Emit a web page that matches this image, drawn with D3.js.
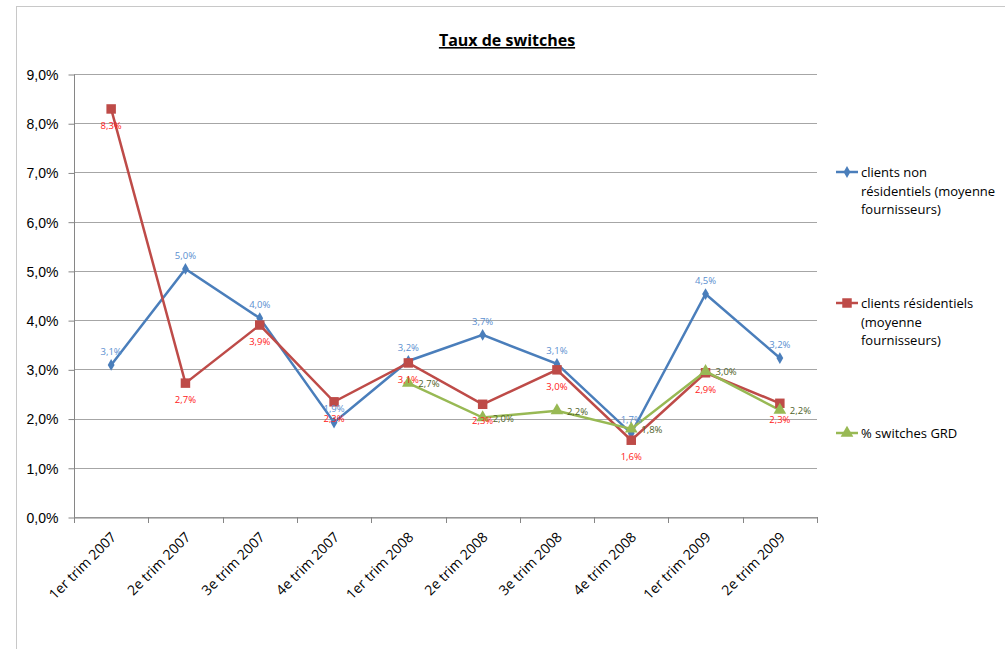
<!DOCTYPE html>
<html><head><meta charset="utf-8">
<script src="https://cdn.jsdelivr.net/npm/d3@7/dist/d3.min.js"></script>
<style>body{margin:0;background:#fff;} svg{display:block;font-family:"Open Sans","Liberation Sans",sans-serif;}</style>
</head><body>
<script>
const categories = ["1er trim 2007","2e trim 2007","3e trim 2007","4e trim 2007","1er trim 2008","2e trim 2008","3e trim 2008","4e trim 2008","1er trim 2009","2e trim 2009"];
const nonResidentiels = [3.09, 5.04, 4.04, 1.92, 3.17, 3.70, 3.11, 1.70, 4.53, 3.23];
const residentiels = [8.29, 2.72, 3.90, 2.34, 3.13, 2.29, 2.99, 1.56, 2.93, 2.31];
const switchesGRD = [null, null, null, null, 2.72, 2.02, 2.16, 1.79, 2.96, 2.17];
const yTicks = [0,1,2,3,4,5,6,7,8,9];
const seriesNames = ["clients non résidentiels (moyenne fournisseurs)","clients résidentiels (moyenne fournisseurs)","% switches GRD"];

const W=1005,H=649;
const svg=d3.select("body").append("svg").attr("width",W).attr("height",H);
svg.append("rect").attr("x",16.5).attr("y",6.5).attr("width",1100).attr("height",700).attr("fill","#fff").attr("stroke","#c8c8c8");

const x=d3.scaleBand().domain(categories).range([74,817]);
const y=d3.scaleLinear().domain([0,9]).range([517,74]);
const fmt=v=>d3.format(".1f")(v).replace(".",",")+"%";

// gridlines
svg.append("g").selectAll("line").data(yTicks).join("line")
 .attr("x1",74).attr("x2",817).attr("y1",d=>Math.round(y(d))+0.5).attr("y2",d=>Math.round(y(d))+0.5)
 .attr("stroke","#a6a6a6").attr("stroke-width",1);

// y axis
const ya=svg.append("g").attr("transform","translate(74.5,0.5)").call(d3.axisLeft(y).tickValues(yTicks).tickSize(6).tickFormat(d=>fmt(d)));
ya.select(".domain").attr("stroke","#868686").attr("d","M0,"+y(9)+"V"+y(0));
ya.selectAll(".tick line").attr("stroke","#868686");
ya.selectAll("text").attr("font-size",14).attr("fill","#000").attr("x",-16).attr("dy","0.35em");

// x axis
const xa=svg.append("g").attr("transform","translate(0.5,517.5)").call(d3.axisBottom(x).tickSize(0).tickFormat(""));
xa.select(".domain").attr("stroke","#868686");
const edges=categories.map(c=>x(c)).concat([x.range()[1]]);
svg.append("g").selectAll("line").data(edges).join("line")
 .attr("x1",d=>Math.round(d)+0.5).attr("x2",d=>Math.round(d)+0.5).attr("y1",517).attr("y2",523).attr("stroke","#868686");
svg.append("g").selectAll("text").data(categories).join("text")
 .attr("transform",d=>`translate(${x(d)+x.bandwidth()/2+6},${538}) rotate(-45)`)
 .attr("text-anchor","end").attr("font-size",14).attr("fill","#000").text(d=>d);

// title
svg.append("text").attr("x",507).attr("y",46).attr("text-anchor","middle").attr("font-size",16).attr("font-weight","bold")
 .attr("text-decoration","underline").text("Taux de switches");

const cx=d=>x(d)+x.bandwidth()/2;
const series=[
 {vals:nonResidentiels,color:"#4a7ebb",sym:d3.symbolDiamond,size:40,lab:"#5b8fd0",pos:"above"},
 {vals:residentiels,color:"#be4b48",sym:d3.symbolSquare,size:90,lab:"#ff2020",pos:"below"},
 {vals:switchesGRD,color:"#98b954",sym:d3.symbolTriangle,size:70,lab:"#4f6228",pos:"right"}
];
series.forEach(s=>{
 const pts=categories.map((c,i)=>({c,v:s.vals[i]}));
 const line=d3.line().defined(d=>d.v!=null).x(d=>cx(d.c)).y(d=>y(d.v));
 svg.append("path").datum(pts).attr("d",line).attr("fill","none").attr("stroke",s.color).attr("stroke-width",2.5);
});
series.forEach(s=>{
 const pts=categories.map((c,i)=>({c,v:s.vals[i]})).filter(d=>d.v!=null);
 svg.append("g").selectAll("path").data(pts).join("path")
  .attr("d",d3.symbol().type(s.sym).size(s.size)).attr("transform",d=>`translate(${cx(d.c)},${y(d.v)})`).attr("fill",s.color);
});
series.forEach(s=>{
 const pts=categories.map((c,i)=>({c,v:s.vals[i]})).filter(d=>d.v!=null);
 svg.append("g").selectAll("text").data(pts).join("text")
  .attr("x",d=>s.pos=="right"?cx(d.c)+10:cx(d.c))
  .attr("y",d=>s.pos=="above"?y(d.v)-10:s.pos=="below"?y(d.v)+20:y(d.v)+4)
  .attr("text-anchor",s.pos=="right"?"start":"middle").attr("font-size",9.5).attr("fill",s.lab).text(d=>fmt(d.v));
});

// legend
const legLines=[["clients non","résidentiels (moyenne","fournisseurs)"],["clients résidentiels","(moyenne","fournisseurs)"],["% switches GRD"]];
const legY=[172,303,433];
series.forEach((s,i)=>{
 const g=svg.append("g");
 g.append("line").attr("x1",836).attr("x2",858).attr("y1",legY[i]).attr("y2",legY[i]).attr("stroke",s.color).attr("stroke-width",2.5);
 g.append("path").attr("d",d3.symbol().type(s.sym).size(s.size)).attr("transform",`translate(847,${legY[i]})`).attr("fill",s.color);
 legLines[i].forEach((t,j)=>g.append("text").attr("x",861).attr("y",legY[i]+5+j*18.5).attr("font-size",13).attr("fill","#000").text(t));
});
</script>
</body></html>
